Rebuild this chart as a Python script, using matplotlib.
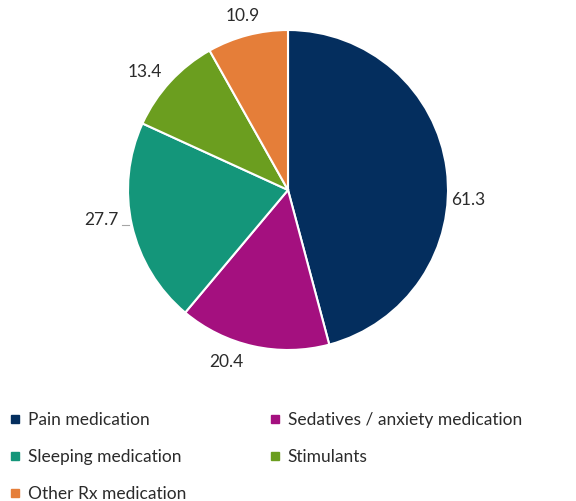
import numpy as np
import matplotlib
matplotlib.use("Agg")
import matplotlib.pyplot as plt
from matplotlib.lines import Line2D

categories = ["Pain medication", "Sedatives / anxiety medication", "Sleeping medication",
              "Stimulants", "Other Rx medication"]
values = [61.3, 20.4, 27.7, 13.4, 10.9]
colors = ["#042e5e", "#a4107f", "#14967a", "#6b9e1f", "#e57e39"]

# label placement tweaks (degrees off mid-angle, radius in pie units)
label_shift = [-10.7, -7.2, -3.6, 3.3, 0.0]
label_r = [1.13, 1.14, 1.18, 1.16, 1.125]

plt.rcParams['font.family'] = ['Lato', 'DejaVu Sans']

fig = plt.figure(figsize=(5.76, 5.01), dpi=100)
cx, cy, r = 288, 190, 160
ax = fig.add_axes([(cx - r) / 576, (501 - cy - r) / 501, 2 * r / 576, 2 * r / 501])
wedges, _ = ax.pie(values, colors=colors, startangle=90, counterclock=False,
                   wedgeprops=dict(edgecolor="white", linewidth=1.5))
ax.set_xlim(-1, 1)
ax.set_ylim(-1, 1)
ax.set_aspect("equal")
ax.axis("off")

for i, w in enumerate(wedges):
    ang = np.deg2rad((w.theta1 + w.theta2) / 2 + label_shift[i])
    x, y = label_r[i] * np.cos(ang), label_r[i] * np.sin(ang)
    ax.text(x, y, f"{values[i]:.1f}", ha="center", va="center", fontsize=12.5,
            color="#2b2b2b", clip_on=False)
    if i == 2:
        ax.plot([x + 0.13, np.cos(ang) - 0.005], [y - 0.03, y - 0.03], color="#a6a6a6",
                lw=0.8, clip_on=False)

handles = [Line2D([], [], marker="s", linestyle="none", markersize=6,
                  markerfacecolor=c, markeredgecolor=c) for c in colors]
order = [0, 2, 4, 1, 3]
leg = fig.legend([handles[i] for i in order], [categories[i] for i in order],
                 loc="upper left", bbox_to_anchor=(-0.012, 0.208), ncol=2, frameon=False,
                 fontsize=12.5, handlelength=0.7, handletextpad=0.4, labelspacing=1.2,
                 columnspacing=4.75, labelcolor="#2b2b2b")

fig.savefig("out.png", dpi=100)
